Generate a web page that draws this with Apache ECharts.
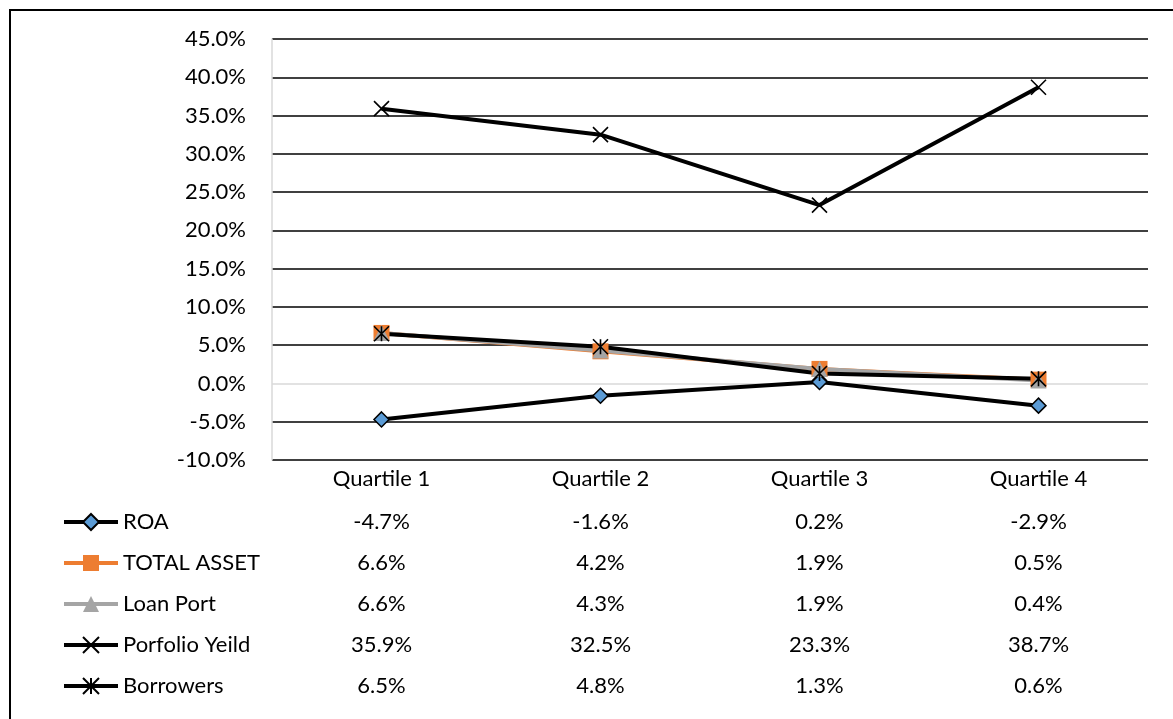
<!DOCTYPE html>
<html>
<head>
<meta charset="utf-8">
<script src="https://cdn.jsdelivr.net/npm/echarts@6/dist/echarts.min.js"></script>
<style>
  html, body { margin: 0; padding: 0; background: #fff; }
  #chart { width: 1173px; height: 719px; }
</style>
</head>
<body>
<div id="chart"></div>
<script>
// Quartile categories and per-quartile ratios (percent)
const categories = ['Quartile 1', 'Quartile 2', 'Quartile 3', 'Quartile 4'];
const roa = [-4.7, -1.6, 0.2, -2.9];
const totalAsset = [6.6, 4.2, 1.9, 0.5];
const loanPort = [6.6, 4.3, 1.9, 0.4];
const portfolioYield = [35.9, 32.5, 23.3, 38.7];
const borrowers = [6.5, 4.8, 1.3, 0.6];
const yTicks = { min: -10, max: 45, step: 5 };

const FONT = 'Lato';
const FS = 22;

const xPath = 'path://M0,0L10,10M10,0L0,10';
const starPath = 'path://M0,0L10,10M10,0L0,10M5,0L5,10';

const seriesDefs = [
  { name: 'ROA', data: roa, line: '#000000', symbol: 'diamond', size: 15,
    item: { color: '#5B9BD5', borderColor: '#000000', borderWidth: 1.5 } },
  { name: 'TOTAL ASSET', data: totalAsset, line: '#ED7D31', symbol: 'rect', size: 16,
    item: { color: '#ED7D31', borderColor: '#ED7D31', borderWidth: 0 } },
  { name: 'Loan Port', data: loanPort, line: '#A5A5A5', symbol: 'triangle', size: 16,
    item: { color: '#A5A5A5', borderColor: '#A5A5A5', borderWidth: 0 } },
  { name: 'Porfolio Yeild', data: portfolioYield, line: '#000000', symbol: xPath, size: 15,
    item: { color: 'rgba(0,0,0,0)', borderColor: '#000000', borderWidth: 1.6 } },
  { name: 'Borrowers', data: borrowers, line: '#000000', symbol: starPath, size: 15,
    item: { color: 'rgba(0,0,0,0)', borderColor: '#000000', borderWidth: 1.6 } }
];

// split line colours: zero line is light grey, the rest black
const splitColors = [];
for (let v = yTicks.min; v <= yTicks.max; v += yTicks.step) {
  splitColors.push(v === 0 ? '#D9D9D9' : '#000000');
}

const chart = echarts.init(document.getElementById('chart'), null, { renderer: 'canvas' });

const option = {
  animation: false,
  backgroundColor: '#ffffff',
  grid: { left: 272, right: 25, top: 39, height: 421 },
  xAxis: {
    type: 'category',
    data: categories,
    boundaryGap: true,
    axisLine: { show: false },
    axisTick: { show: false },
    axisLabel: { margin: 8, color: '#000', fontFamily: FONT, fontSize: FS }
  },
  yAxis: {
    type: 'value',
    min: yTicks.min,
    max: yTicks.max,
    interval: yTicks.step,
    axisLine: { show: true, lineStyle: { color: '#D9D9D9', width: 1.5 } },
    axisTick: { show: false },
    axisLabel: {
      margin: 26, color: '#000', fontFamily: FONT, fontSize: FS,
      formatter: v => v.toFixed(1) + '%'
    },
    splitLine: { show: true, lineStyle: { color: splitColors, width: 1.5 } }
  },
  legend: {
    orient: 'vertical',
    left: 57,
    top: 505,
    padding: 5,
    itemWidth: 54,
    itemHeight: 20,
    itemGap: 17,
    lineStyle: { width: 4 },
    textStyle: { color: '#000', fontFamily: FONT, fontSize: FS, lineHeight: 24 },
    data: seriesDefs.map(s => s.name)
  },
  series: seriesDefs.map(s => ({
    name: s.name,
    type: 'line',
    data: s.data,
    symbol: s.symbol,
    symbolSize: s.size,
    showAllSymbol: true,
    lineStyle: { color: s.line, width: 4 },
    itemStyle: s.item,
    emphasis: { disabled: true }
  }))
};

chart.setOption(option);

// data table values under each quartile, plus the outer frame
const rowTop = 522;
const rowStep = 41;
const graphics = [{
  type: 'rect',
  shape: { x: 10, y: 10, width: 1200, height: 760 },
  style: { fill: 'none', stroke: '#000', lineWidth: 2 },
  silent: true
}];
seriesDefs.forEach((s, r) => {
  s.data.forEach((v, i) => {
    const px = chart.convertToPixel({ xAxisIndex: 0 }, categories[i]);
    graphics.push({
      type: 'text',
      x: px,
      y: rowTop + r * rowStep,
      style: {
        text: v.toFixed(1) + '%',
        fill: '#000',
        font: FS + 'px ' + FONT,
        align: 'center',
        verticalAlign: 'middle'
      },
      silent: true
    });
  });
});
chart.setOption({ graphic: graphics });
</script>
</body>
</html>
